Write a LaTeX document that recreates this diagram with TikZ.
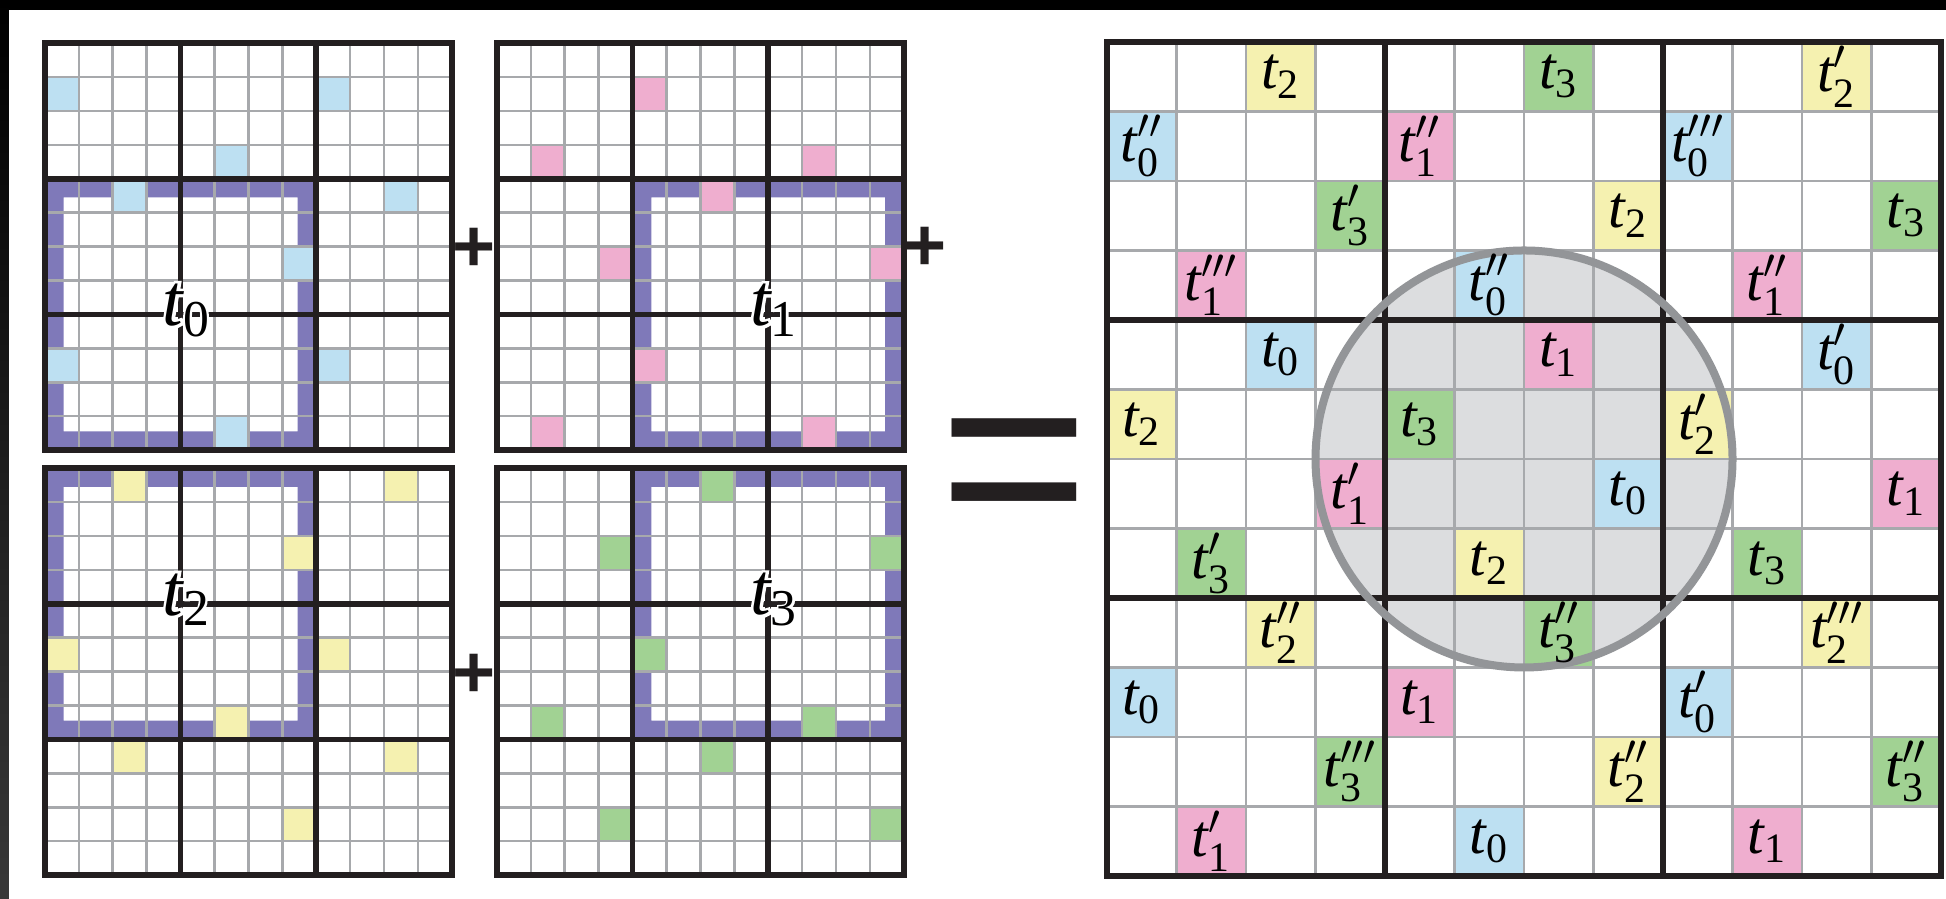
\documentclass[tikz,border=0pt]{standalone}
\usepackage{amsmath}
\usepackage{fontspec}
\setmainfont{Liberation Serif}
\newfontfamily\halofont{Liberation Serif}[FakeBold=8]
\newfontfamily\signfont{Liberation Sans}
\usetikzlibrary{shadings}
\definecolor{tzero}{HTML}{BDE0F2}
\definecolor{tone}{HTML}{EFAECF}
\definecolor{ttwo}{HTML}{F5F1B0}
\definecolor{tthree}{HTML}{A1D293}
\definecolor{band}{HTML}{7F79B9}
\definecolor{thinln}{HTML}{A7A9AC}
\definecolor{thickln}{HTML}{231F20}
\definecolor{disc}{HTML}{DCDDDF}
\definecolor{ring}{HTML}{939598}

% t with primes (#1 = how many) and index #2
\newcommand\tlab[2]{\ensuremath{\textit{t}\ifcase#1\or'\or''\or'''\fi_{\textup{#2}}}}
% white rim round a label
\newcommand\halo[1]{\rlap{\color{white}\halofont#1}#1}

\begin{document}
\begin{tikzpicture}[line cap=rect,
  thinlines/.style={thinln,line width=0.027cm},
  thicklines/.style={thickln,line width=0.055cm},
  smalllbl/.style={inner sep=0pt,font=\fontsize{21}{21}\selectfont},
  biglbl/.style={inner sep=0pt,font=\fontsize{17}{17}\selectfont},
  sign/.style={inner sep=0pt,text=thickln}]

  \useasboundingbox (0,0) rectangle (19.46,8.99);
  \fill[white] (0,0) rectangle (19.46,8.99);

  % screen edges
  \fill[black] (0,8.89) rectangle (19.46,8.99);
  \shade[top color=black,bottom color=black!78] (0,0) rectangle (0.09,8.99);

  % t0
  \begin{scope}[shift={(0.45,4.49)},scale=0.339]
    \fill[band,even odd rule] (0,0) rectangle (8,8) (0.55,0.55) rectangle (7.45,7.45);
    \foreach \c/\r in {0/10,8/10,5/8,2/7,10/7,7/5,0/2,8/2,5/0}
      \fill[tzero] (\c,\r) rectangle +(1,1);
    \foreach \i in {0,...,12}
      \draw[thinlines] (\i,0) -- (\i,12) (0,\i) -- (12,\i);
    \foreach \i in {0,4,8,12}
      \draw[thicklines] (\i,0) -- (\i,12) (0,\i) -- (12,\i);
    \node[smalllbl] (lblA) at (4.18,4.12) {\halo{\tlab0{0}}};
  \end{scope}

  % t1
  \begin{scope}[shift={(4.97,4.49)},scale=0.339]
    \fill[band,even odd rule] (4,0) rectangle (12,8) (4.55,0.55) rectangle (11.45,7.45);
    \foreach \c/\r in {4/10,1/8,9/8,6/7,3/5,11/5,4/2,1/0,9/0}
      \fill[tone] (\c,\r) rectangle +(1,1);
    \foreach \i in {0,...,12}
      \draw[thinlines] (\i,0) -- (\i,12) (0,\i) -- (12,\i);
    \foreach \i in {0,4,8,12}
      \draw[thicklines] (\i,0) -- (\i,12) (0,\i) -- (12,\i);
    \node[smalllbl] (lblB) at (8.18,4.12) {\halo{\tlab0{1}}};
  \end{scope}

  % t2
  \begin{scope}[shift={(0.45,0.24)},scale=0.339]
    \fill[band,even odd rule] (0,4) rectangle (8,12) (0.55,4.55) rectangle (7.45,11.45);
    \foreach \c/\r in {2/11,10/11,7/9,0/6,8/6,5/4,2/3,10/3,7/1}
      \fill[ttwo] (\c,\r) rectangle +(1,1);
    \foreach \i in {0,...,12}
      \draw[thinlines] (\i,0) -- (\i,12) (0,\i) -- (12,\i);
    \foreach \i in {0,4,8,12}
      \draw[thicklines] (\i,0) -- (\i,12) (0,\i) -- (12,\i);
    \node[smalllbl] (lblC) at (4.18,8.12) {\halo{\tlab0{2}}};
  \end{scope}

  % t3
  \begin{scope}[shift={(4.97,0.24)},scale=0.339]
    \fill[band,even odd rule] (4,4) rectangle (12,12) (4.55,4.55) rectangle (11.45,11.45);
    \foreach \c/\r in {6/11,3/9,11/9,4/6,1/4,9/4,6/3,3/1,11/1}
      \fill[tthree] (\c,\r) rectangle +(1,1);
    \foreach \i in {0,...,12}
      \draw[thinlines] (\i,0) -- (\i,12) (0,\i) -- (12,\i);
    \foreach \i in {0,4,8,12}
      \draw[thicklines] (\i,0) -- (\i,12) (0,\i) -- (12,\i);
    \node[smalllbl] (lblD) at (8.18,8.12) {\halo{\tlab0{3}}};
  \end{scope}

  \node[sign,font=\signfont\bfseries\fontsize{21}{21}\selectfont] (plusA) at (4.74,6.49) {+};
  \node[sign,font=\signfont\bfseries\fontsize{21}{21}\selectfont] (plusB) at (9.25,6.50) {+};
  \node[sign,font=\signfont\bfseries\fontsize{21}{21}\selectfont] (plusC) at (4.74,2.23) {+};
  \node[sign,font=\signfont\fontsize{73}{73}\selectfont] (eqsign) at (10.145,4.17) {=};

  % the sum
  \def\celllist{2/11/ttwo/0/2, 6/11/tthree/0/3, 10/11/ttwo/1/2,
    0/10/tzero/2/0, 4/10/tone/2/1, 8/10/tzero/3/0,
    3/9/tthree/1/3, 7/9/ttwo/0/2, 11/9/tthree/0/3,
    1/8/tone/3/1, 5/8/tzero/2/0, 9/8/tone/2/1,
    2/7/tzero/0/0, 6/7/tone/0/1, 10/7/tzero/1/0,
    0/6/ttwo/0/2, 4/6/tthree/0/3, 8/6/ttwo/1/2,
    3/5/tone/1/1, 7/5/tzero/0/0, 11/5/tone/0/1,
    1/4/tthree/1/3, 5/4/ttwo/0/2, 9/4/tthree/0/3,
    2/3/ttwo/2/2, 6/3/tthree/2/3, 10/3/ttwo/3/2,
    0/2/tzero/0/0, 4/2/tone/0/1, 8/2/tzero/1/0,
    3/1/tthree/3/3, 7/1/ttwo/2/2, 11/1/tthree/2/3,
    1/0/tone/1/1, 5/0/tzero/0/0, 9/0/tone/0/1}
  \begin{scope}[shift={(11.07,0.23)},scale=0.695]
    \fill[disc] (6,6) circle (3);
    \foreach \c/\r/\fc/\p/\d in \celllist
      \fill[\fc] (\c,\r) rectangle +(1,1);
    \foreach \i in {0,...,12}
      \draw[thinlines] (\i,0) -- (\i,12) (0,\i) -- (12,\i);
    \foreach \i in {0,4,8,12}
      \draw[thicklines] (\i,0) -- (\i,12) (0,\i) -- (12,\i);
    \draw[ring,line width=0.08cm] (6,6) circle (3);
    \foreach \c/\r/\fc/\p/\d in \celllist
      \node[biglbl] (cell-\c-\r) at (\c+0.5,\r+0.5) {\tlab\p{\d}};
  \end{scope}

\end{tikzpicture}
\end{document}
